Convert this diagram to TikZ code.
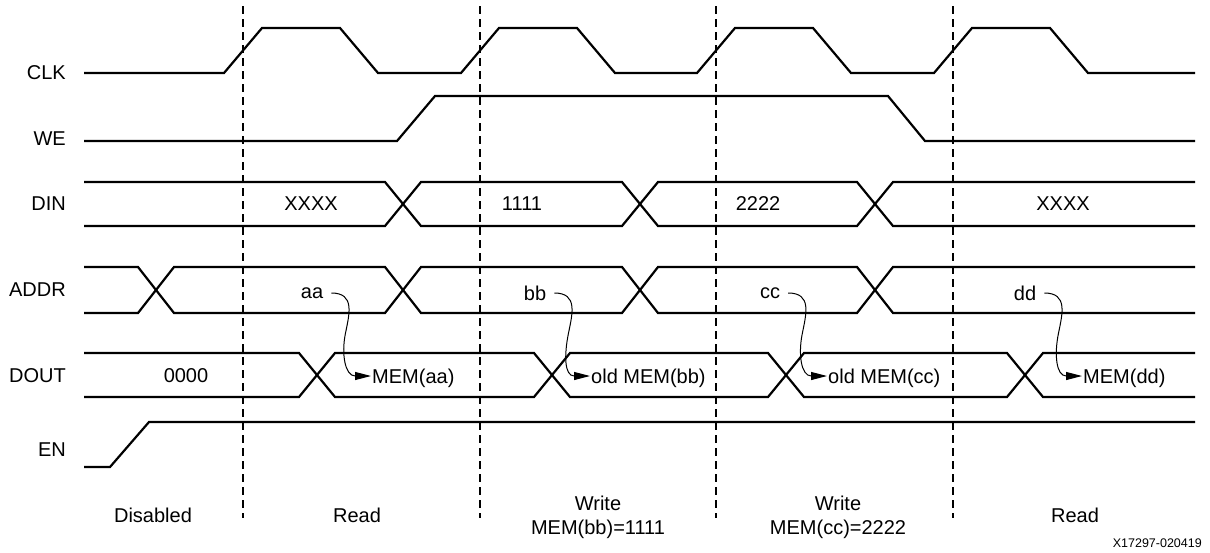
\documentclass[tikz,border=0pt]{standalone}
\usepackage{fontspec}
\setmainfont{Liberation Sans}
\usetikzlibrary{arrows.meta}

\begin{document}
\begin{tikzpicture}[
		x=1pt,y=-1pt,
		font=\fontsize{20}{24}\selectfont,
		every node/.style={inner sep=1pt,text depth=0pt},
		sig/.style={line width=2.2pt,line join=miter},
		guide/.style={line width=1.1pt,dash pattern=on 8pt off 5pt},
		link/.style={line width=1pt,-{Triangle[length=16pt,width=8pt]}},
		lbl/.style={anchor=east}
		]
		\useasboundingbox (0,0) rectangle (1210,552);

		% signal names
		\node[lbl] (clk) at (67,73) {CLK};
		\node[lbl] (we) at (67,139) {WE};
		\node[lbl] (din) at (67,204) {DIN};
		\node[lbl] (addr) at (67,290) {ADDR};
		\node[lbl] (dout) at (67,376) {DOUT};
		\node[lbl] (en) at (67,450) {EN};

		% clock
		\draw[sig] (84,73) \foreach \d in {243,480,716,953} { -- (\d-19,73) -- (\d+19,28) -- (\d+97,28) -- (\d+135,73) } -- (1195,73);
		% write enable
		\draw[sig] (84,141) -- (397,141) -- (435,96) -- (888,96) -- (925,141) -- (1195,141);
		% data in
		\draw[sig] (84,182) -- (385,182) -- (421,226) -- (622,226) -- (658,182) -- (857,182) -- (893,226) -- (1195,226);
		\draw[sig] (84,226) -- (385,226) -- (421,182) -- (622,182) -- (658,226) -- (857,226) -- (893,182) -- (1195,182);
		% address
		\draw[sig] (84,267) -- (138,267) -- (174,313) -- (385,313) -- (421,267) -- (622,267) -- (658,313) -- (857,313) -- (893,267) -- (1195,267);
		\draw[sig] (84,313) -- (138,313) -- (174,267) -- (385,267) -- (421,313) -- (622,313) -- (658,267) -- (857,267) -- (893,313) -- (1195,313);
		% data out
		\draw[sig] (84,353) -- (299,353) -- (335,397) -- (534,397) -- (570,353) -- (768,353) -- (804,397) -- (1007,397) -- (1043,353) -- (1195,353);
		\draw[sig] (84,397) -- (299,397) -- (335,353) -- (534,353) -- (570,397) -- (768,397) -- (804,353) -- (1007,353) -- (1043,397) -- (1195,397);
		% enable
		\draw[sig] (84,467) -- (110,467) -- (149,422) -- (1195,422);

		% cycle boundaries
		\foreach \d in {243,480,716,953}
			\draw[guide] (\d,6) -- (\d,518);

		% bus values
		\node (dinx1) at (311,204) {XXXX};
		\node (din1) at (522,204) {1111};
		\node (din2) at (758,204) {2222};
		\node (dinx2) at (1063,204) {XXXX};
		\node (aa) at (312,293) {aa};
		\node (bb) at (535,293) {bb};
		\node (cc) at (770,293) {cc};
		\node (dd) at (1025,293) {dd};
		\node (dout0) at (186,376) {0000};
		\node[anchor=west] (memaa) at (371,376) {MEM(aa)};
		\node[anchor=west] (membb) at (590,376) {old MEM(bb)};
		\node[anchor=west] (memcc) at (827,376) {old MEM(cc)};
		\node[anchor=west] (memdd) at (1082,376) {MEM(dd)};

		% address to data out
		\draw[link] ([xshift=7pt]aa.east) .. controls +(24,0) and +(4,-20) .. ++(14,41) .. controls +(-4,20) and +(-26,0) .. (memaa.west);
		\draw[link] ([xshift=7pt]bb.east) .. controls +(24,0) and +(4,-20) .. ++(14,41) .. controls +(-4,20) and +(-26,0) .. (membb.west);
		\draw[link] ([xshift=7pt]cc.east) .. controls +(24,0) and +(4,-20) .. ++(14,41) .. controls +(-4,20) and +(-26,0) .. (memcc.west);
		\draw[link] ([xshift=7pt]dd.east) .. controls +(24,0) and +(4,-20) .. ++(14,41) .. controls +(-4,20) and +(-26,0) .. (memdd.west);

		% modes
		\node (dis) at (153,515) {Disabled};
		\node (rd1) at (357,515) {Read};
		\node[align=center] (wr1) at (598,515) {Write\\MEM(bb)=1111};
		\node[align=center] (wr2) at (838,515) {Write\\MEM(cc)=2222};
		\node (rd2) at (1075,515) {Read};
		\node[anchor=east,font=\fontsize{12.5}{15}\selectfont] (fig) at (1203,543) {X17297-020419};
	\end{tikzpicture}
\end{document}
